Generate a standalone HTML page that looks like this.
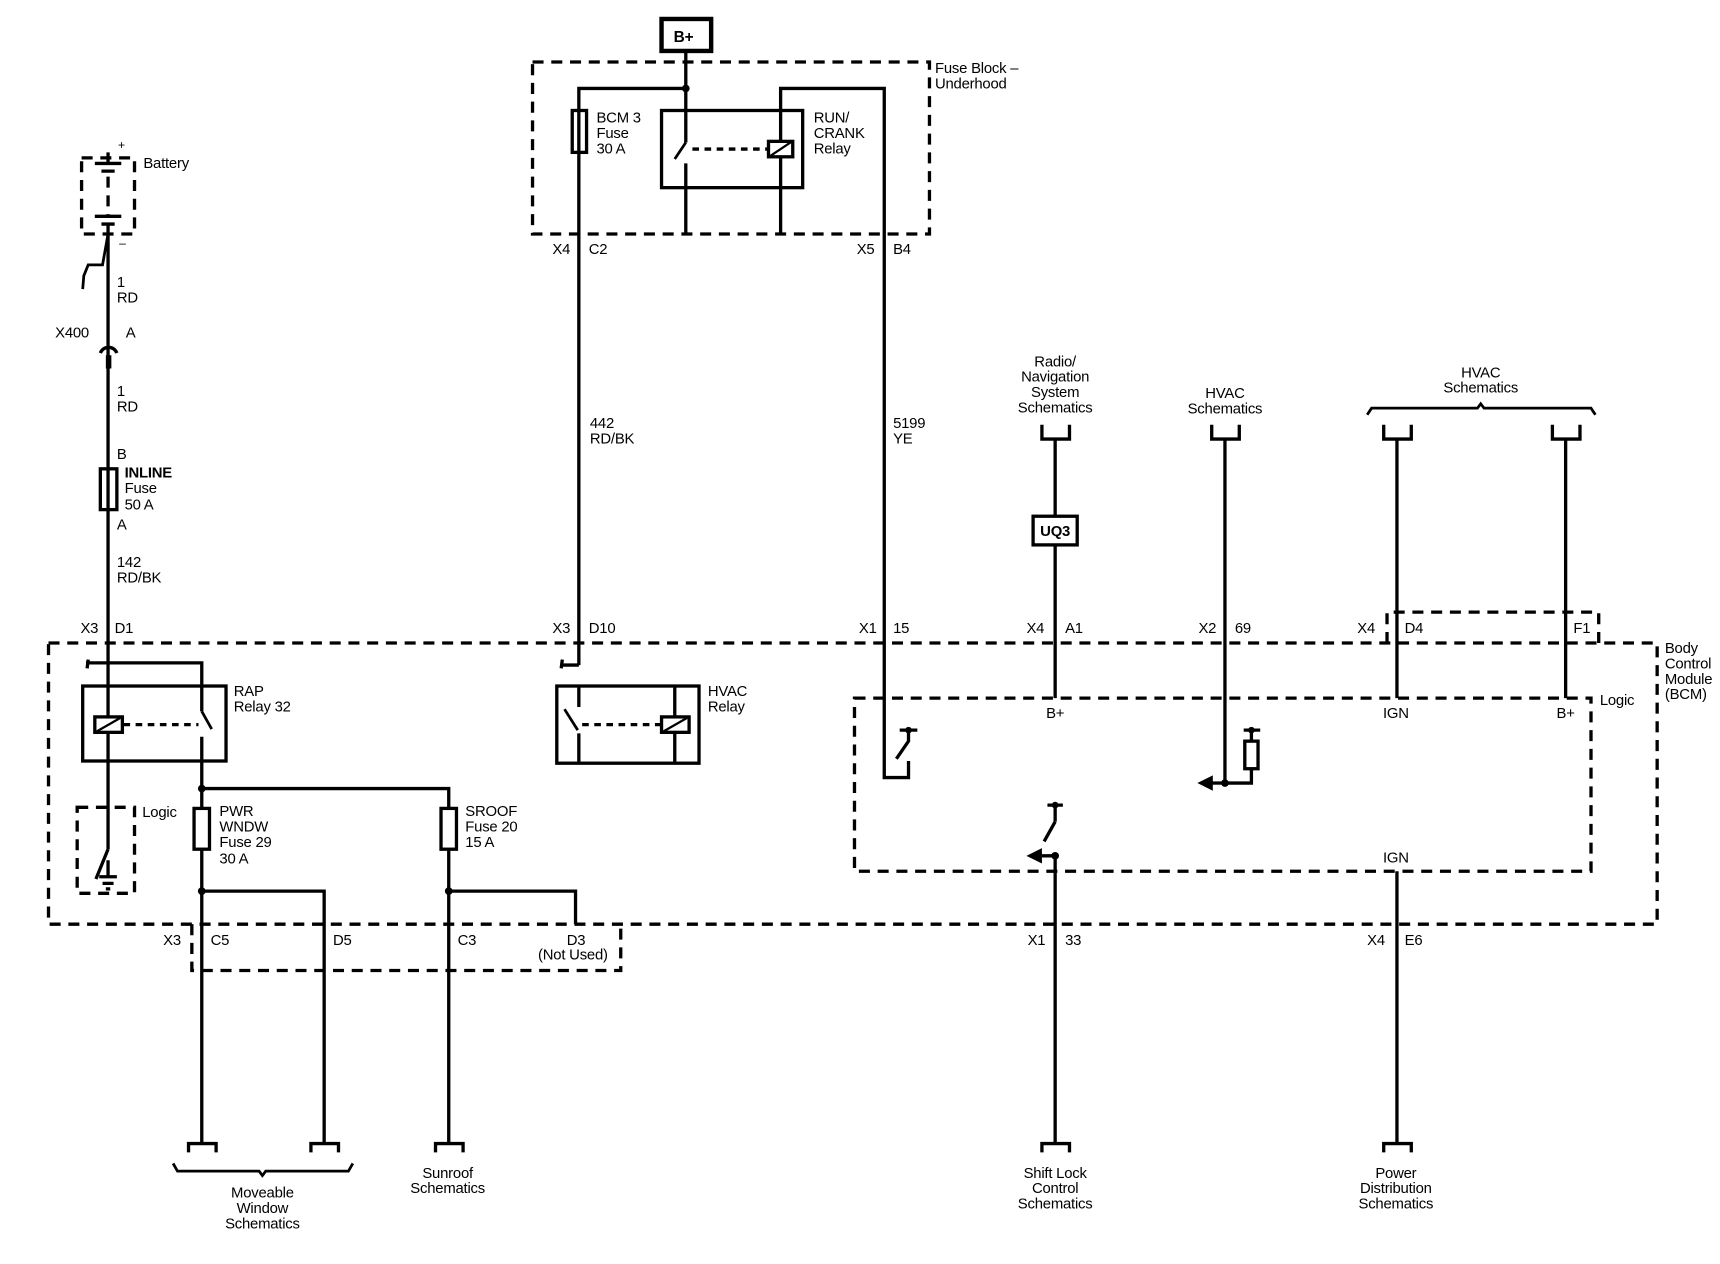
<!DOCTYPE html>
<html><head><meta charset="utf-8"><style>
html,body{margin:0;padding:0;background:#fff}
svg{display:block}
text{font-family:"Liberation Sans",Arial,sans-serif;font-size:13.5px;fill:#000;letter-spacing:-0.2px}
.c{text-anchor:middle}
</style></head><body>
<svg width="1720" height="1264" viewBox="0 0 1560 1146" xmlns="http://www.w3.org/2000/svg">
<g fill="none" stroke="#000" stroke-width="3">
<!-- dashed boxes -->
<g stroke-dasharray="10,7">
<rect x="483" y="56" width="360" height="156"/>
<rect x="74" y="143" width="48" height="69"/>
<rect x="44" y="583" width="1459" height="255"/>
<rect x="775" y="633" width="668" height="157"/>
<rect x="70" y="732" width="52" height="78"/>
<path d="M174 838 V880 H563 V838"/>
<path d="M1258 583 V555 H1450 V583"/>
<line x1="98" y1="160" x2="98" y2="196"/>
</g>
<g stroke-dasharray="6,5">
<line x1="628" y1="135" x2="697" y2="135"/>
<line x1="112" y1="657" x2="180" y2="657"/>
<line x1="528" y1="657" x2="600" y2="657"/>
</g>
<!-- B+ -->
<rect x="600" y="17" width="45" height="29" stroke-width="4"/>
<path d="M622 46 V129 M622 148 V212 M525 212 V80 H622 M708 212 V80 H802 V705 H824 V690"/>
<path d="M622 129 L612 144" stroke-width="2.5"/>
<rect x="519" y="100" width="13" height="38"/>
<rect x="600" y="100" width="128" height="70"/>
<rect x="697" y="128" width="22" height="14" fill="#fff"/>
<path d="M699 141 L717 129" stroke-width="2"/>
<path d="M525 212 V603"/>
<!-- battery -->
<path d="M86 148 H110 M92 155 H104 M86 196 H110 M92 203 H104 M98 138 V148 M98 203 V600"/>
<path d="M98 212 L93 240 L88 240 H80 L76 250 L75 262" stroke-width="2.5"/>
<path d="M91 320 A8 8 0 0 1 106 320" stroke-width="3"/>
<rect x="91" y="425" width="15" height="37"/>
<!-- RAP relay area -->
<path d="M78 601 H183 V645 M183 668 V690 M80 598 L79 606"/>
<path d="M183 645 L192 661" stroke-width="2.5"/>
<rect x="75" y="622" width="130" height="68"/>
<path d="M98 601 V690"/>
<rect x="86" y="650" width="25" height="14" fill="#fff"/>
<path d="M88 663 L109 651" stroke-width="2"/>
<path d="M98 690 V770 M98 770 L87 797 M98 780 V795 M90 795 H106 M93 801 H103 M96 806 H100"/>
<path d="M183 690 V1037 M183 715 H407 V838 M183 808 H294 V1037 M407 808 H522 V838 M407 838 V1037"/>
<rect x="176" y="733" width="14" height="37" fill="#fff"/>
<rect x="400" y="733" width="14" height="37" fill="#fff"/>
<!-- HVAC relay -->
<path d="M510 598 L509 606 M508 603 H525"/>
<rect x="505" y="622" width="129" height="70"/>
<path d="M612 622 V692 M525 622 V641 M525 665 V692"/>
<path d="M512 643 L524 662" stroke-width="2.5"/>
<rect x="600" y="650" width="25" height="14" fill="#fff"/>
<path d="M602 663 L623 651" stroke-width="2"/>
<!-- BCM right -->
<path d="M957 398 V633 M1111 398 V710 H1135 V697 M1135 672 V662 M1267 398 V633 M1420 398 V633"/>
<rect x="937" y="468" width="40" height="26" fill="#fff"/>
<rect x="1129" y="672" width="12" height="25"/>
<path d="M1128 662 H1143"/>
<path d="M1111 710 H1098"/>
<path d="M957 776 V1037 M957 776 H945 M957 730 V745 M950 730 H964 M957 745 L947 763"/>
<path d="M824 662 V672 L813 688 M816 662 H832"/>
<path d="M1267 790 V1037"/>
<!-- connectors -->
<path d="M945 385 V398 H970 V385 M1099 385 V398 H1124 V385 M1255 385 V398 H1280 V385 M1408 385 V398 H1433 V385"/>
<path d="M171 1045 V1037 H196 V1045 M282 1045 V1037 H307 V1045 M395 1045 V1037 H420 V1045 M945 1045 V1037 H970 V1045 M1255 1045 V1037 H1280 V1045"/>
<path d="M157 1055 L161 1062 H235 L238 1066 L241 1062 H316 L320 1055" stroke-width="2.5"/>
<path d="M1240 376 L1244 370 H1340 L1343 366 L1346 370 H1443 L1447 376" stroke-width="2.5"/>
</g>
<!-- dots & arrows -->
<g fill="#000">
<circle cx="622" cy="80" r="3.5"/><circle cx="183" cy="715" r="3.5"/><circle cx="183" cy="808" r="3.5"/><circle cx="407" cy="808" r="3.5"/>
<circle cx="957" cy="776" r="3.5"/><circle cx="1111" cy="710" r="3.5"/><circle cx="957" cy="730" r="3"/><circle cx="1135" cy="662" r="3"/><circle cx="824" cy="662" r="3"/>
<polygon points="1086,710 1100,703 1100,717"/>
<polygon points="931,776 945,769 945,783"/>
<rect x="96" y="322" width="5" height="12"/>
</g>
<!-- text -->
<text x="611" y="38" style="font-weight:bold;font-size:14px">B+</text>
<text x="848" y="66">Fuse Block –</text><text x="848" y="80">Underhood</text>
<text x="541" y="111">BCM 3</text><text x="541" y="125">Fuse</text><text x="541" y="139">30 A</text>
<text x="738" y="111">RUN/</text><text x="738" y="125">CRANK</text><text x="738" y="139">Relay</text>
<text x="501" y="230">X4</text><text x="534" y="230">C2</text><text x="777" y="230">X5</text><text x="810" y="230">B4</text>
<text x="535" y="388">442</text><text x="535" y="402">RD/BK</text>
<text x="810" y="388">5199</text><text x="810" y="402">YE</text>
<text x="107" y="135" style="font-size:11px">+</text><text x="108" y="224" style="font-size:11px">–</text>
<text x="130" y="152">Battery</text>
<text x="106" y="260">1</text><text x="106" y="274">RD</text>
<text x="50" y="306">X400</text><text x="114" y="306">A</text>
<text x="106" y="359">1</text><text x="106" y="373">RD</text>
<text x="106" y="416">B</text>
<text x="113" y="433" style="font-weight:bold">INLINE</text><text x="113" y="447">Fuse</text><text x="113" y="462">50 A</text>
<text x="106" y="480">A</text>
<text x="106" y="514">142</text><text x="106" y="528">RD/BK</text>
<text x="73" y="574">X3</text><text x="104" y="574">D1</text>
<text x="501" y="574">X3</text><text x="534" y="574">D10</text>
<text x="779" y="574">X1</text><text x="810" y="574">15</text>
<text x="931" y="574">X4</text><text x="966" y="574">A1</text>
<text x="1087" y="574">X2</text><text x="1120" y="574">69</text>
<text x="1231" y="574">X4</text><text x="1274" y="574">D4</text><text x="1427" y="574">F1</text>
<text class="c" x="957" y="332">Radio/</text><text class="c" x="957" y="346">Navigation</text><text class="c" x="957" y="360">System</text><text class="c" x="957" y="374">Schematics</text>
<text class="c" x="1111" y="361">HVAC</text><text class="c" x="1111" y="375">Schematics</text>
<text class="c" x="1343" y="342">HVAC</text><text class="c" x="1343" y="356">Schematics</text>
<text class="c" x="957" y="486" style="font-weight:bold">UQ3</text>
<text x="1510" y="592">Body</text><text x="1510" y="606">Control</text><text x="1510" y="620">Module</text><text x="1510" y="634">(BCM)</text>
<text x="1451" y="639">Logic</text>
<text class="c" x="957" y="651">B+</text><text class="c" x="1266" y="651">IGN</text><text class="c" x="1420" y="651">B+</text>
<text class="c" x="1266" y="782">IGN</text>
<text x="212" y="631">RAP</text><text x="212" y="645">Relay 32</text>
<text x="642" y="631">HVAC</text><text x="642" y="645">Relay</text>
<text x="129" y="741">Logic</text>
<text x="199" y="740">PWR</text><text x="199" y="754">WNDW</text><text x="199" y="768">Fuse 29</text><text x="199" y="783">30 A</text>
<text x="422" y="740">SROOF</text><text x="422" y="754">Fuse 20</text><text x="422" y="768">15 A</text>
<text x="148" y="857">X3</text><text x="191" y="857">C5</text><text x="302" y="857">D5</text><text x="415" y="857">C3</text><text x="514" y="857">D3</text><text x="488" y="870">(Not Used)</text>
<text x="932" y="857">X1</text><text x="966" y="857">33</text>
<text x="1240" y="857">X4</text><text x="1274" y="857">E6</text>
<text class="c" x="238" y="1086">Moveable</text><text class="c" x="238" y="1100">Window</text><text class="c" x="238" y="1114">Schematics</text>
<text class="c" x="406" y="1068">Sunroof</text><text class="c" x="406" y="1082">Schematics</text>
<text class="c" x="957" y="1068">Shift Lock</text><text class="c" x="957" y="1082">Control</text><text class="c" x="957" y="1096">Schematics</text>
<text class="c" x="1266" y="1068">Power</text><text class="c" x="1266" y="1082">Distribution</text><text class="c" x="1266" y="1096">Schematics</text>
</svg>
</body></html>
